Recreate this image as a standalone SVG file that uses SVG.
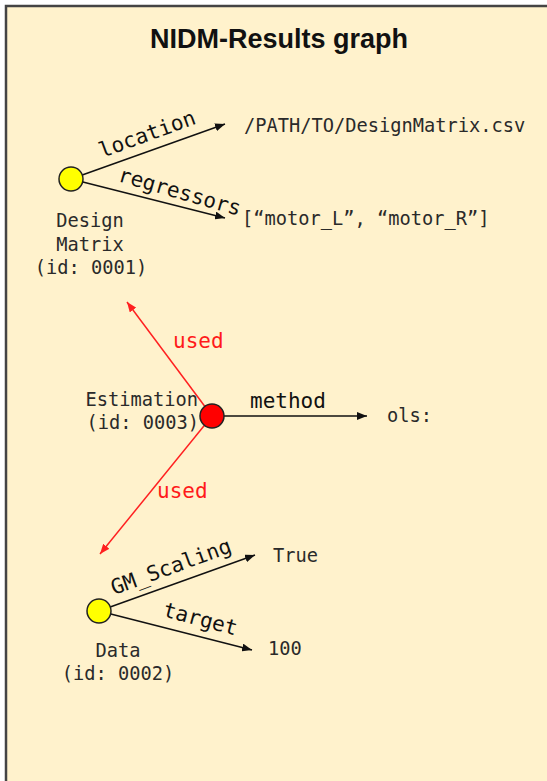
<svg xmlns="http://www.w3.org/2000/svg" width="547" height="781" viewBox="0 0 547 781">
  <style>
    .title { font-family: "Liberation Sans", Arial, sans-serif; font-weight: bold; font-size: 27px; fill: #111; }
    .mono { font-family: "DejaVu Sans Mono", "Liberation Mono", monospace; font-size: 18.7px; fill: #2a2a2a; }
    .lbl { font-family: "DejaVu Sans Mono", "Liberation Mono", monospace; font-size: 21px; fill: #111; }
    .red { fill: #ff1a1a; }
    .edge { stroke: #111; stroke-width: 1.5; fill: none; }
    .redge { stroke: #ff2020; stroke-width: 1.5; fill: none; }
    .ent { fill: #ffff00; stroke: #222; stroke-width: 1.5; }
    .act { fill: #ff0000; stroke: #222; stroke-width: 1.5; }
  </style>
  <defs>
    <marker id="ah" viewBox="0 0 10 8" refX="10" refY="4" markerWidth="10" markerHeight="8" markerUnits="userSpaceOnUse" orient="auto">
      <path d="M0,0 L10,4 L0,8 z" fill="#111"/>
    </marker>
    <marker id="ahr" viewBox="0 0 10 8" refX="10" refY="4" markerWidth="10" markerHeight="8" markerUnits="userSpaceOnUse" orient="auto">
      <path d="M0,0 L10,4 L0,8 z" fill="#ff2020"/>
    </marker>
  </defs>
  <rect x="6" y="6" width="560" height="800" fill="#fff2cc" stroke="#444" stroke-width="2.5"/>
  <text class="title" x="279" y="48" text-anchor="middle">NIDM-Results graph</text>

  <g id="connectors">
    <line class="edge" x1="71" y1="179" x2="225" y2="124" marker-end="url(#ah)"/>
    <line class="edge" x1="71" y1="179" x2="225" y2="218" marker-end="url(#ah)"/>
    <line class="redge" x1="212" y1="416" x2="127" y2="302" marker-end="url(#ahr)"/>
    <line class="redge" x1="212" y1="416" x2="100" y2="554" marker-end="url(#ahr)"/>
    <line class="edge" x1="224" y1="416" x2="367" y2="416" marker-end="url(#ah)"/>
    <line class="edge" x1="99" y1="611" x2="255" y2="555" marker-end="url(#ah)"/>
    <line class="edge" x1="99" y1="611" x2="252" y2="650" marker-end="url(#ah)"/>
    <text class="lbl" x="102" y="158" transform="rotate(-20 102 158)">location</text>
    <text class="lbl" x="117" y="181" transform="rotate(16 117 181)">regressors</text>
    <text class="lbl red" x="173" y="348">used</text>
    <text class="lbl" x="250" y="408">method</text>
    <text class="lbl red" x="157" y="498">used</text>
    <text class="lbl" x="114" y="595" transform="rotate(-20 114 595)">GM_Scaling</text>
    <text class="lbl" x="162" y="616" transform="rotate(15 162 616)">target</text>
  </g>

  <g id="design-matrix">
    <circle class="ent" cx="71" cy="179" r="12"/>
    <text class="mono" x="90" y="227" text-anchor="middle">Design</text>
    <text class="mono" x="90" y="251" text-anchor="middle">Matrix</text>
    <text class="mono" x="91" y="274" text-anchor="middle">(id: 0001)</text>
  </g>
  <g id="design-location">
    <text class="mono" x="244" y="132">/PATH/TO/DesignMatrix.csv</text>
  </g>
  <g id="design-regressors">
    <text class="mono" x="242" y="225">[“motor_L”, “motor_R”]</text>
  </g>

  <g id="estimation">
    <circle class="act" cx="212" cy="416" r="12"/>
    <text class="mono" x="198" y="406" text-anchor="end">Estimation</text>
    <text class="mono" x="199" y="429" text-anchor="end">(id: 0003)</text>
  </g>
  <g id="estimation-method">
    <text class="mono" x="387" y="422">ols:</text>
  </g>

  <g id="data">
    <circle class="ent" cx="99" cy="611" r="12"/>
    <text class="mono" x="118" y="657" text-anchor="middle">Data</text>
    <text class="mono" x="118" y="680" text-anchor="middle">(id: 0002)</text>
  </g>
  <g id="data-gm-scaling">
    <text class="mono" x="273" y="562">True</text>
  </g>
  <g id="data-target">
    <text class="mono" x="268" y="655">100</text>
  </g>
</svg>
